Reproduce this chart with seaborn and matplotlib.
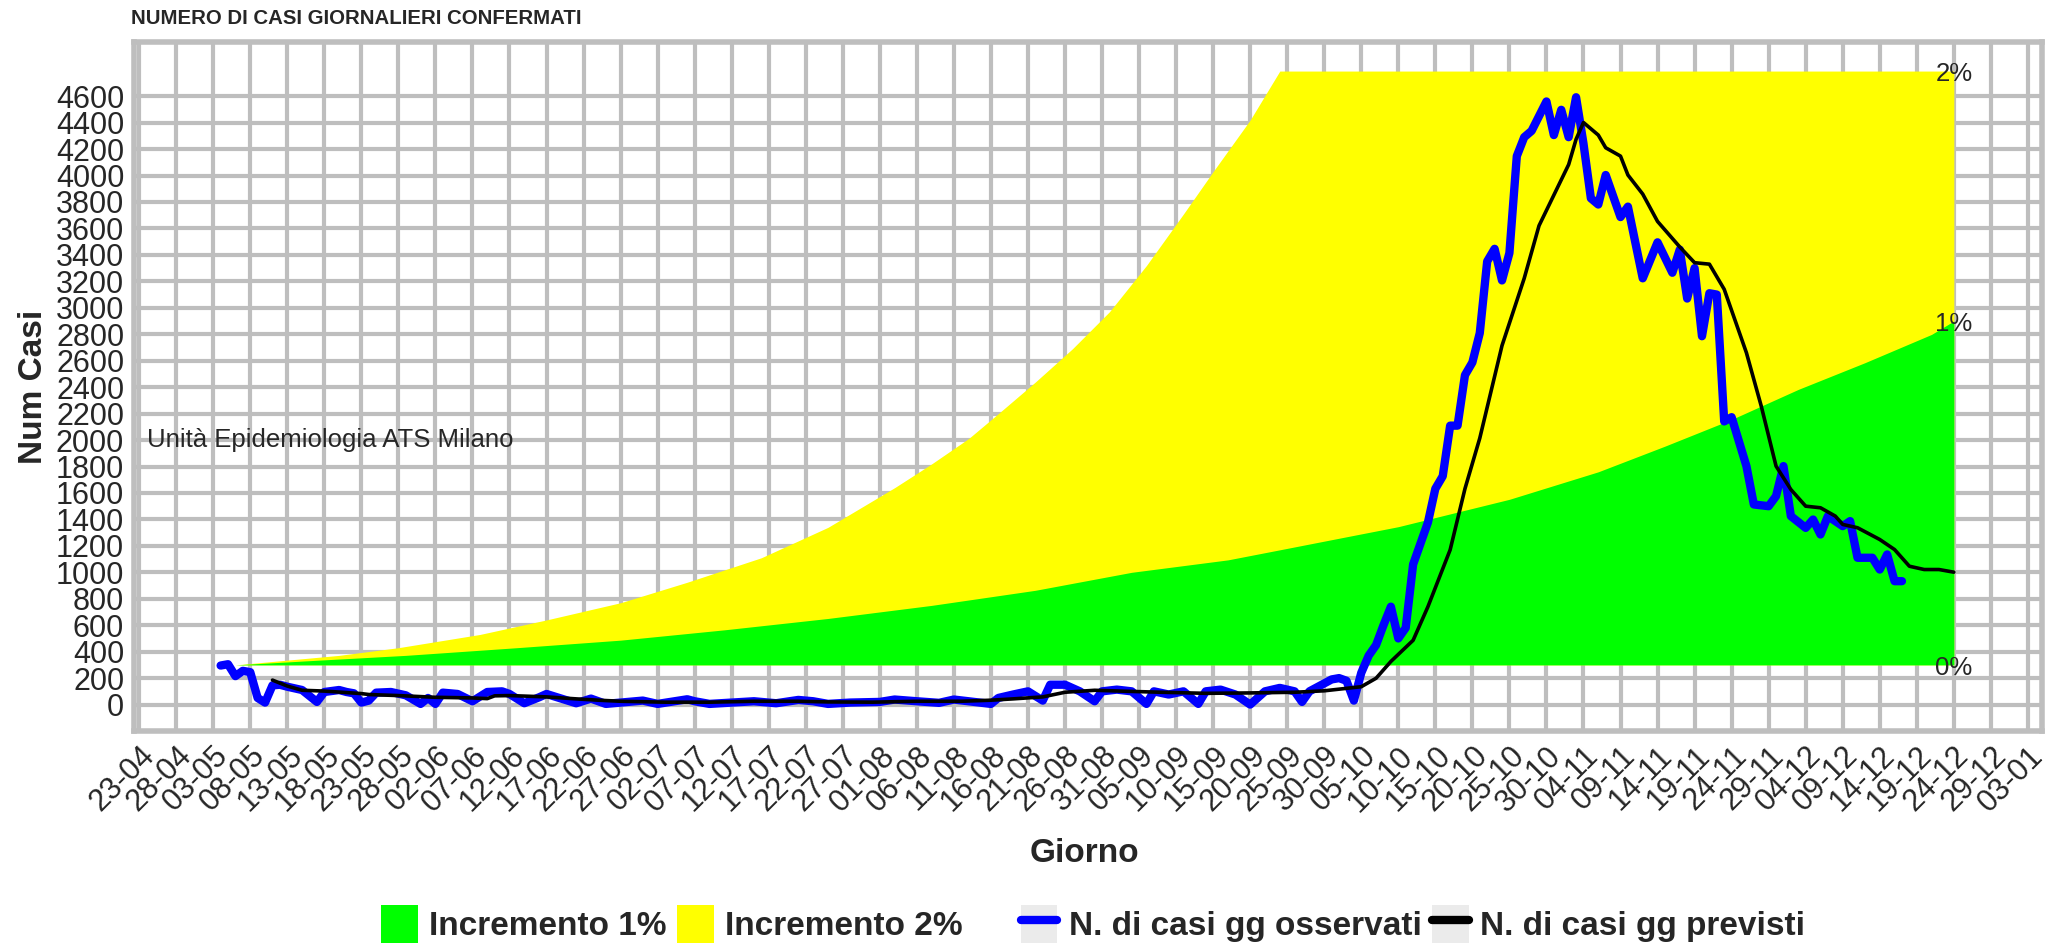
import matplotlib
matplotlib.use('Agg')
import matplotlib.pyplot as plt
import matplotlib.dates as mdates
import pandas as pd
import seaborn as sns
from matplotlib.patches import Patch
from matplotlib.lines import Line2D
from matplotlib.legend_handler import HandlerTuple

# observed daily cases (dd-mm, 2020)
obs_days = ['04-05', '05-05', '06-05', '07-05', '08-05', '09-05', '10-05', '11-05', '12-05', '13-05',
            '15-05', '17-05', '18-05', '20-05', '21-05', '22-05', '23-05', '24-05', '25-05', '27-05',
            '29-05', '31-05', '01-06', '02-06', '03-06', '05-06', '07-06', '09-06', '11-06', '12-06',
            '14-06', '16-06', '17-06', '19-06', '21-06', '23-06', '25-06', '27-06', '30-06', '02-07',
            '06-07', '07-07', '09-07', '12-07', '15-07', '18-07', '21-07', '23-07', '25-07', '28-07',
            '01-08', '03-08', '06-08', '09-08', '11-08', '13-08', '16-08', '17-08', '19-08', '21-08',
            '23-08', '24-08', '26-08', '28-08', '30-08', '31-08', '02-09', '04-09', '06-09', '07-09',
            '09-09', '11-09', '13-09', '14-09', '16-09', '18-09', '20-09', '22-09', '24-09', '26-09',
            '27-09', '28-09', '01-10', '02-10', '03-10', '04-10', '05-10', '06-10', '07-10', '08-10',
            '09-10', '10-10', '11-10', '12-10', '14-10', '15-10', '16-10', '17-10', '18-10', '19-10',
            '20-10', '21-10', '22-10', '23-10', '24-10', '25-10', '26-10', '27-10', '28-10', '30-10',
            '31-10', '01-11', '02-11', '03-11', '04-11', '05-11', '06-11', '07-11', '09-11', '10-11',
            '12-11', '14-11', '16-11', '17-11', '18-11', '19-11', '20-11', '21-11', '22-11', '23-11',
            '24-11', '26-11', '27-11', '29-11', '30-11', '01-12', '02-12', '04-12', '05-12', '06-12',
            '07-12', '09-12', '10-12', '11-12', '13-12', '14-12', '15-12', '16-12', '17-12']
obs_cases = [295, 305, 215, 255, 245, 50, 15, 145, 150, 135,
             110, 20, 95, 110, 95, 85, 15, 30, 90, 95,
             70, 5, 50, 5, 90, 80, 25, 95, 100, 80,
             10, 55, 80, 45, 10, 45, 5, 15, 30, 5,
             40, 25, 5, 15, 25, 10, 35, 25, 5, 15,
             20, 38, 25, 13, 38, 25, 5, 50, 76, 100,
             30, 150, 150, 100, 25, 100, 113, 100, 5, 100,
             76, 100, 5, 100, 113, 76, 0, 100, 126, 100,
             20, 100, 190, 200, 180, 30, 240, 370, 450, 600,
             740, 500, 580, 1060, 1377, 1632, 1727, 2109, 2109, 2491,
             2587, 2809, 3351, 3446, 3207, 3414, 4147, 4290, 4338, 4560,
             4306, 4497, 4290, 4592, 4242, 3828, 3781, 4004, 3686, 3765,
             3223, 3495, 3265, 3440, 3070, 3300, 2785, 3110, 3100, 2141,
             2173, 1803, 1513, 1500, 1576, 1803, 1425, 1336, 1399, 1286,
             1425, 1349, 1387, 1110, 1110, 1021, 1135, 933, 933]

# predicted daily cases
prev_days = ['11-05', '13-05', '15-05', '18-05', '23-05', '24-05', '28-05', '02-06', '07-06', '09-06',
             '10-06', '12-06', '17-06', '21-06', '24-06', '27-06', '03-07', '09-07', '15-07', '21-07',
             '25-07', '31-07', '06-08', '12-08', '16-08', '19-08', '23-08', '26-08', '30-08', '03-09',
             '08-09', '14-09', '20-09', '26-09', '30-09', '05-10', '07-10', '09-10', '12-10', '14-10',
             '17-10', '19-10', '21-10', '24-10', '27-10', '29-10', '02-11', '03-11', '04-11', '06-11',
             '07-11', '09-11', '10-11', '12-11', '14-11', '17-11', '19-11', '21-11', '23-11', '26-11',
             '28-11', '30-11', '02-12', '04-12', '06-12', '08-12', '09-12', '11-12', '14-12', '16-12',
             '18-12', '20-12', '22-12', '24-12']
prev_cases = [185, 140, 108, 102, 83, 76, 68, 55, 50, 45,
              66, 68, 58, 43, 33, 25, 18, 18, 25, 25,
              20, 18, 25, 25, 33, 43, 58, 93, 108, 101,
              93, 85, 88, 93, 104, 135, 199, 326, 486, 740,
              1170, 1632, 2014, 2714, 3223, 3621, 4083, 4274, 4401, 4306,
              4210, 4147, 4004, 3860, 3653, 3460, 3341, 3330, 3140, 2660,
              2257, 1803, 1626, 1500, 1488, 1425, 1362, 1337, 1248, 1172,
              1046, 1021, 1021, 1001]

# growth bands (top edge of each band, both start from area_base)
area_base = 300
green_days = ['06-05', '17-05', '29-05', '13-06', '27-06', '11-07', '25-07', '08-08', '22-08', '04-09',
              '17-09', '24-09', '10-10', '25-10', '06-11', '15-11', '24-11', '03-12', '12-12', '21-12',
              '24-12']
green_top = [300, 335, 372, 430, 487, 565, 651, 750, 864, 1000,
             1094, 1170, 1345, 1552, 1760, 1954, 2156, 2383, 2585, 2799,
             2900]
yellow_days = ['06-05', '20-05', '28-05', '08-06', '17-06', '27-06', '06-07', '16-07', '25-07', '03-08',
               '08-08', '13-08', '17-08', '22-08', '27-08', '01-09', '06-09', '11-09', '15-09', '20-09',
               '24-09', '24-12']
yellow_top = [300, 372, 430, 530, 640, 770, 925, 1110, 1340, 1640,
              1820, 2012, 2200, 2439, 2690, 2970, 3320, 3710, 4030, 4420,
              4790, 4790]

pct_labels = ['2%', '1%', '0%']
pct_values = [4790, 2900, 300]

y_ticks = list(range(0, 4601, 200))
x_ticks = pd.date_range('2020-04-23', '2021-01-03', freq='5D')


def to_dates(days):
    return pd.to_datetime(['2020-' + d[3:] + '-' + d[:2] for d in days])


obs = pd.DataFrame({'giorno': to_dates(obs_days), 'casi': obs_cases})
prev = pd.DataFrame({'giorno': to_dates(prev_days), 'casi': prev_cases})
green = pd.DataFrame({'giorno': to_dates(green_days), 'top': green_top})
yellow = pd.DataFrame({'giorno': to_dates(yellow_days), 'top': yellow_top})

sns.set_style('white')
plt.rcParams['font.family'] = ['Liberation Sans', 'DejaVu Sans']

fig, ax = plt.subplots(figsize=(20.6, 9.43), dpi=100)
fig.subplots_adjust(left=0.065, right=0.9913, top=0.9555, bottom=0.2248)

ax.fill_between(yellow['giorno'], area_base, yellow['top'], color='#FFFF00', lw=0, zorder=1)
ax.fill_between(green['giorno'], area_base, green['top'], color='#00FF00', lw=0, zorder=1.1)

sns.lineplot(data=obs, x='giorno', y='casi', color='#0000FF', lw=6, ax=ax, zorder=3,
             legend=False, solid_joinstyle='round')
sns.lineplot(data=prev, x='giorno', y='casi', color='black', lw=2.6, ax=ax, zorder=4,
             legend=False)

end_day = green['giorno'].iloc[-1]
for lab, val in zip(pct_labels, pct_values):
    ax.text(end_day, val - 25, lab, fontsize=18.5, ha='center', va='center', zorder=5)

ax.text(pd.Timestamp('2020-04-24'), 2000, 'Unità Epidemiologia ATS Milano',
        fontsize=18.5, ha='left', va='center', zorder=5)

ax.set_xlim(pd.Timestamp('2020-04-22 07:00'), pd.Timestamp('2021-01-04 22:00'))
ax.set_ylim(-200, 5010)
ax.set_xticks(x_ticks)
ax.xaxis.set_major_formatter(mdates.DateFormatter('%d-%m'))
ax.set_yticks(y_ticks)

ax.grid(True, color='#BEBEBE', lw=3)
ax.set_axisbelow(True)
for sp in ax.spines.values():
    sp.set_color('#BEBEBE')
    sp.set_linewidth(4)
    sp.set_zorder(6)

ax.tick_params(axis='both', direction='out', length=4, width=1.2, color='#333333',
               labelsize=22, pad=3)
for lab in ax.get_xticklabels():
    lab.set_rotation(45)
    lab.set_ha('right')
    lab.set_va('top')
    lab.set_rotation_mode('anchor')

ax.set_xlabel('Giorno', fontsize=24, fontweight='bold')
ax.set_ylabel('Num Casi', fontsize=24, fontweight='bold')
ax.xaxis.set_label_coords(0.498, -0.155)
ax.yaxis.set_label_coords(-0.0445, 0.5)

fig.text(0.0636, 1 - 19 / 943, 'NUMERO DI CASI GIORNALIERI CONFERMATI', fontsize=14.7,
         fontweight='bold', ha='left', va='center')

leg_prop = {'weight': 'bold', 'size': 24}
fill_handles = [Patch(facecolor='#00FF00', edgecolor='none'),
                Patch(facecolor='#FFFF00', edgecolor='none')]
leg1 = fig.legend(fill_handles, ['Incremento 1%', 'Incremento 2%'], loc='center left',
                  bbox_to_anchor=(0.185, 0.02), ncol=2, frameon=False, prop=leg_prop,
                  handlelength=1.1, handleheight=1.4, handletextpad=0.35,
                  columnspacing=0.3, borderpad=0, borderaxespad=0)

line_handles = [(Patch(facecolor='#EBEBEB', edgecolor='none'), Line2D([], [], color='#0000FF', lw=6)),
                (Patch(facecolor='#EBEBEB', edgecolor='none'), Line2D([], [], color='black', lw=6))]
leg2 = fig.legend(line_handles, ['N. di casi gg osservati', 'N. di casi gg previsti'],
                  loc='center left', bbox_to_anchor=(0.4955, 0.02), ncol=2, frameon=False,
                  prop=leg_prop, handlelength=1.1, handleheight=1.4, handletextpad=0.35,
                  columnspacing=0.3, borderpad=0, borderaxespad=0,
                  handler_map={tuple: HandlerTuple(ndivide=1, pad=0)})

fig.savefig('out.png', dpi=100)
